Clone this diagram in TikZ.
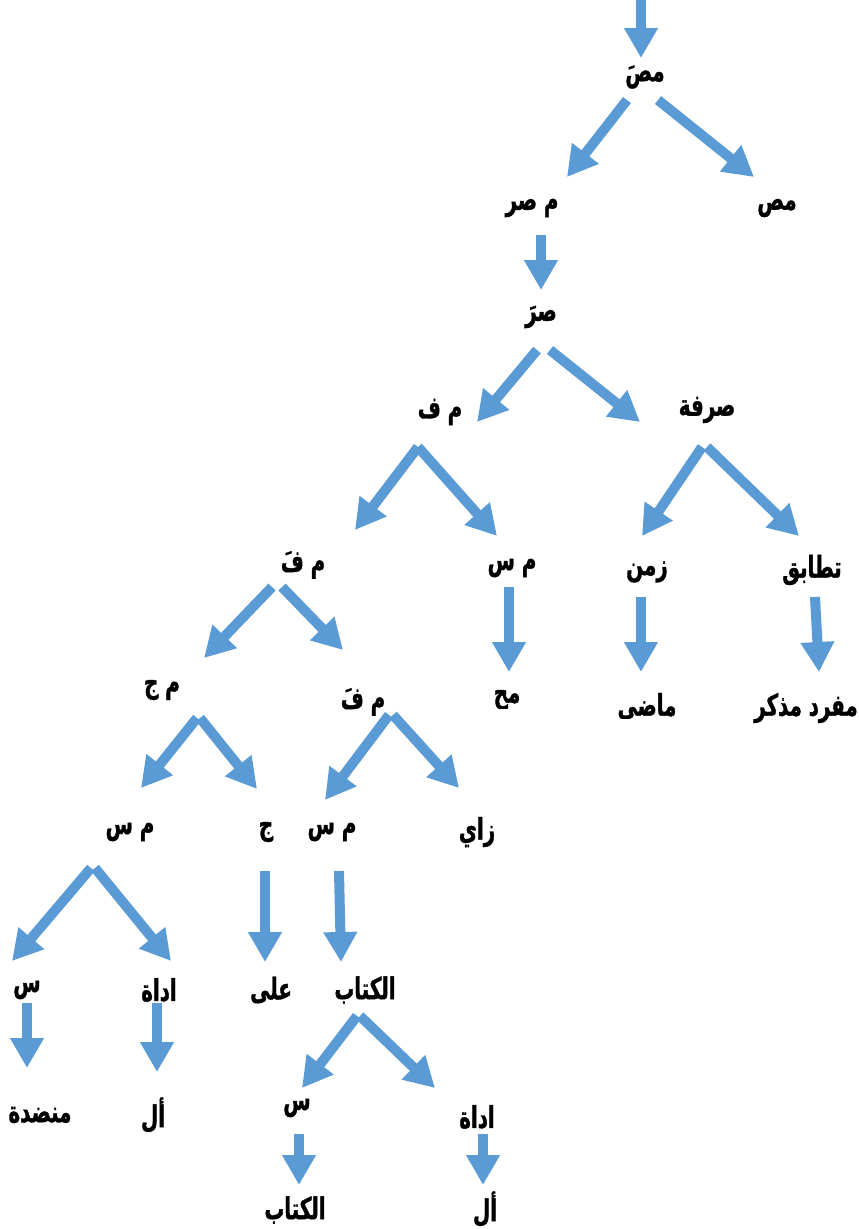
\documentclass[tikz,border=0pt]{standalone}
\usepackage{fontspec}
\newfontfamily\arabicfont[Script=Arabic,FakeStretch=0.66,FakeBold=1.2]{DejaVu Sans}
\TeXXeTstate=1
\usetikzlibrary{arrows.meta}
\definecolor{arrowblue}{HTML}{5B9BD5}
\tikzset{
  lbl/.style={font=\arabicfont\bfseries\fontsize{30}{33}\selectfont, inner sep=0pt,
    execute at begin node=\beginR, execute at end node=\endR},
  arr/.style={-{Triangle[width=32pt,length=30pt]}, line width=10pt, draw=arrowblue}
}
\begin{document}
\begin{tikzpicture}[x=1pt,y=-1pt]
    \useasboundingbox (0,0) rectangle (859,1229);
    % Nodes
    \node [lbl] (msad) at (645,77) {مصَ};
    \node [lbl] (msr) at (532,208) {م صر};
    \node [lbl] (ms0) at (777,208) {مص};
    \node [lbl] (sar) at (541,317) {صرَ};
    \node [lbl] (mf) at (440,412) {م ف};
    \node [lbl] (sarfa) at (707,410) {صرفة};
    \node [lbl] (mfa) at (303,565) {م فَ};
    \node [lbl] (ms1) at (512,568) {م س};
    \node [lbl] (zaman) at (647,572) {زمن};
    \node [lbl] (tatabuq) at (812,570) {تطابق};
    \begin{scope}
      \clip (470,680) rectangle (560,708);
      \node [lbl] (mh) at (507,700) {مح};
    \end{scope}
    \begin{scope}
      \clip (600,680) rectangle (700,718);
      \node [lbl] (madi) at (647,708) {ماضي};
    \end{scope}
    \node [lbl] (mufrad) at (806,708) {مفرد مذكر};
    \node [lbl] (mj) at (162,690) {م ج};
    \node [lbl] (mfa2) at (363,702) {م فَ};
    \node [lbl] (ms2) at (130,832) {م س};
    \node [lbl] (jim) at (266,832) {ج};
    \node [lbl] (ms3) at (332,832) {م س};
    \node [lbl] (zay) at (477,832) {زاي};
    \node [lbl] (sin1) at (27,990) {س};
    \node [lbl] (adat1) at (159,990) {اداة};
    \node [lbl] (ala) at (271,990) {على};
    \node [lbl] (kitab1) at (365,990) {الكتاب};
    \node [lbl] (mandada) at (40,1115) {منضدة};
    \node [lbl] (al1) at (153,1115) {أل};
    \node [lbl] (sin2) at (297,1108) {س};
    \node [lbl] (adat2) at (477,1117) {اداة};
    \node [lbl] (kitab2) at (295,1210) {الكتاب};
    \node [lbl] (al2) at (485,1209) {أل};
    \coordinate (top) at (641,0);

    % Arrows
    \draw [arr] (top) -- ([shift={(-4,-19)}]msad.center);
    \draw [arr] ([shift={(-18,23)}]msad.center) -- ([shift={(35,-31)}]msr.center);
    \draw [arr] ([shift={(13,23)}]msad.center) -- ([shift={(-23,-31)}]ms0.center);
    \draw [arr] ([shift={(9,27)}]msr.center) -- ([shift={(0,-27)}]sar.center);
    \draw [arr] ([shift={(-4,33)}]sar.center) -- ([shift={(37,10)}]mf.center);
    \draw [arr] ([shift={(9,33)}]sar.center) -- ([shift={(-67,12)}]sarfa.center);
    \draw [arr] ([shift={(-22,35)}]mf.center) -- ([shift={(52,-35)}]mfa.center);
    \draw [arr] ([shift={(-22,35)}]mf.center) -- ([shift={(-15,-32)}]ms1.center);
    \draw [arr] ([shift={(-5,37)}]sarfa.center) -- ([shift={(-5,-36)}]zaman.center);
    \draw [arr] ([shift={(0,37)}]sarfa.center) -- ([shift={(-13,-34)}]tatabuq.center);
    \draw [arr] ([shift={(-3,19)}]ms1.center) -- ([shift={(2,-28)}]mh.center);
    \draw [arr] ([shift={(-6,25)}]zaman.center) -- ([shift={(-6,-36)}]madi.center);
    \draw [arr] ([shift={(3,27)}]tatabuq.center) -- ([shift={(13,-36)}]mufrad.center);
    \draw [arr] ([shift={(-31,22)}]mfa.center) -- ([shift={(42,-32)}]mj.center);
    \draw [arr] ([shift={(-21,22)}]mfa.center) -- ([shift={(-20,-52)}]mfa2.center);
    \draw [arr] ([shift={(35,28)}]mj.center) -- ([shift={(11,-44)}]ms2.center);
    \draw [arr] ([shift={(38,28)}]mj.center) -- ([shift={(-9,-43)}]jim.center);
    \draw [arr] ([shift={(26,13)}]mfa2.center) -- ([shift={(-7,-32)}]ms3.center);
    \draw [arr] ([shift={(30,13)}]mfa2.center) -- ([shift={(-18,-44)}]zay.center);
    \draw [arr] ([shift={(-39,36)}]ms2.center) -- ([shift={(-15,-29)}]sin1.center);
    \draw [arr] ([shift={(-35,36)}]ms2.center) -- ([shift={(12,-29)}]adat1.center);
    \draw [arr] ([shift={(-1,39)}]jim.center) -- ([shift={(-6,-28)}]ala.center);
    \draw [arr] ([shift={(7,39)}]ms3.center) -- ([shift={(-24,-28)}]kitab1.center);
    \draw [arr] ([shift={(0,13)}]sin1.center) -- ([shift={(-13,-47)}]mandada.center);
    \draw [arr] ([shift={(-2,13)}]adat1.center) -- ([shift={(4,-43)}]al1.center);
    \draw [arr] ([shift={(-8,26)}]kitab1.center) -- ([shift={(5,-20)}]sin2.center);
    \draw [arr] ([shift={(-5,26)}]kitab1.center) -- ([shift={(-42,-29)}]adat2.center);
    \draw [arr] ([shift={(2,26)}]sin2.center) -- ([shift={(4,-25)}]kitab2.center);
    \draw [arr] ([shift={(6,17)}]adat2.center) -- ([shift={(-2,-24)}]al2.center);
\end{tikzpicture}
\end{document}
